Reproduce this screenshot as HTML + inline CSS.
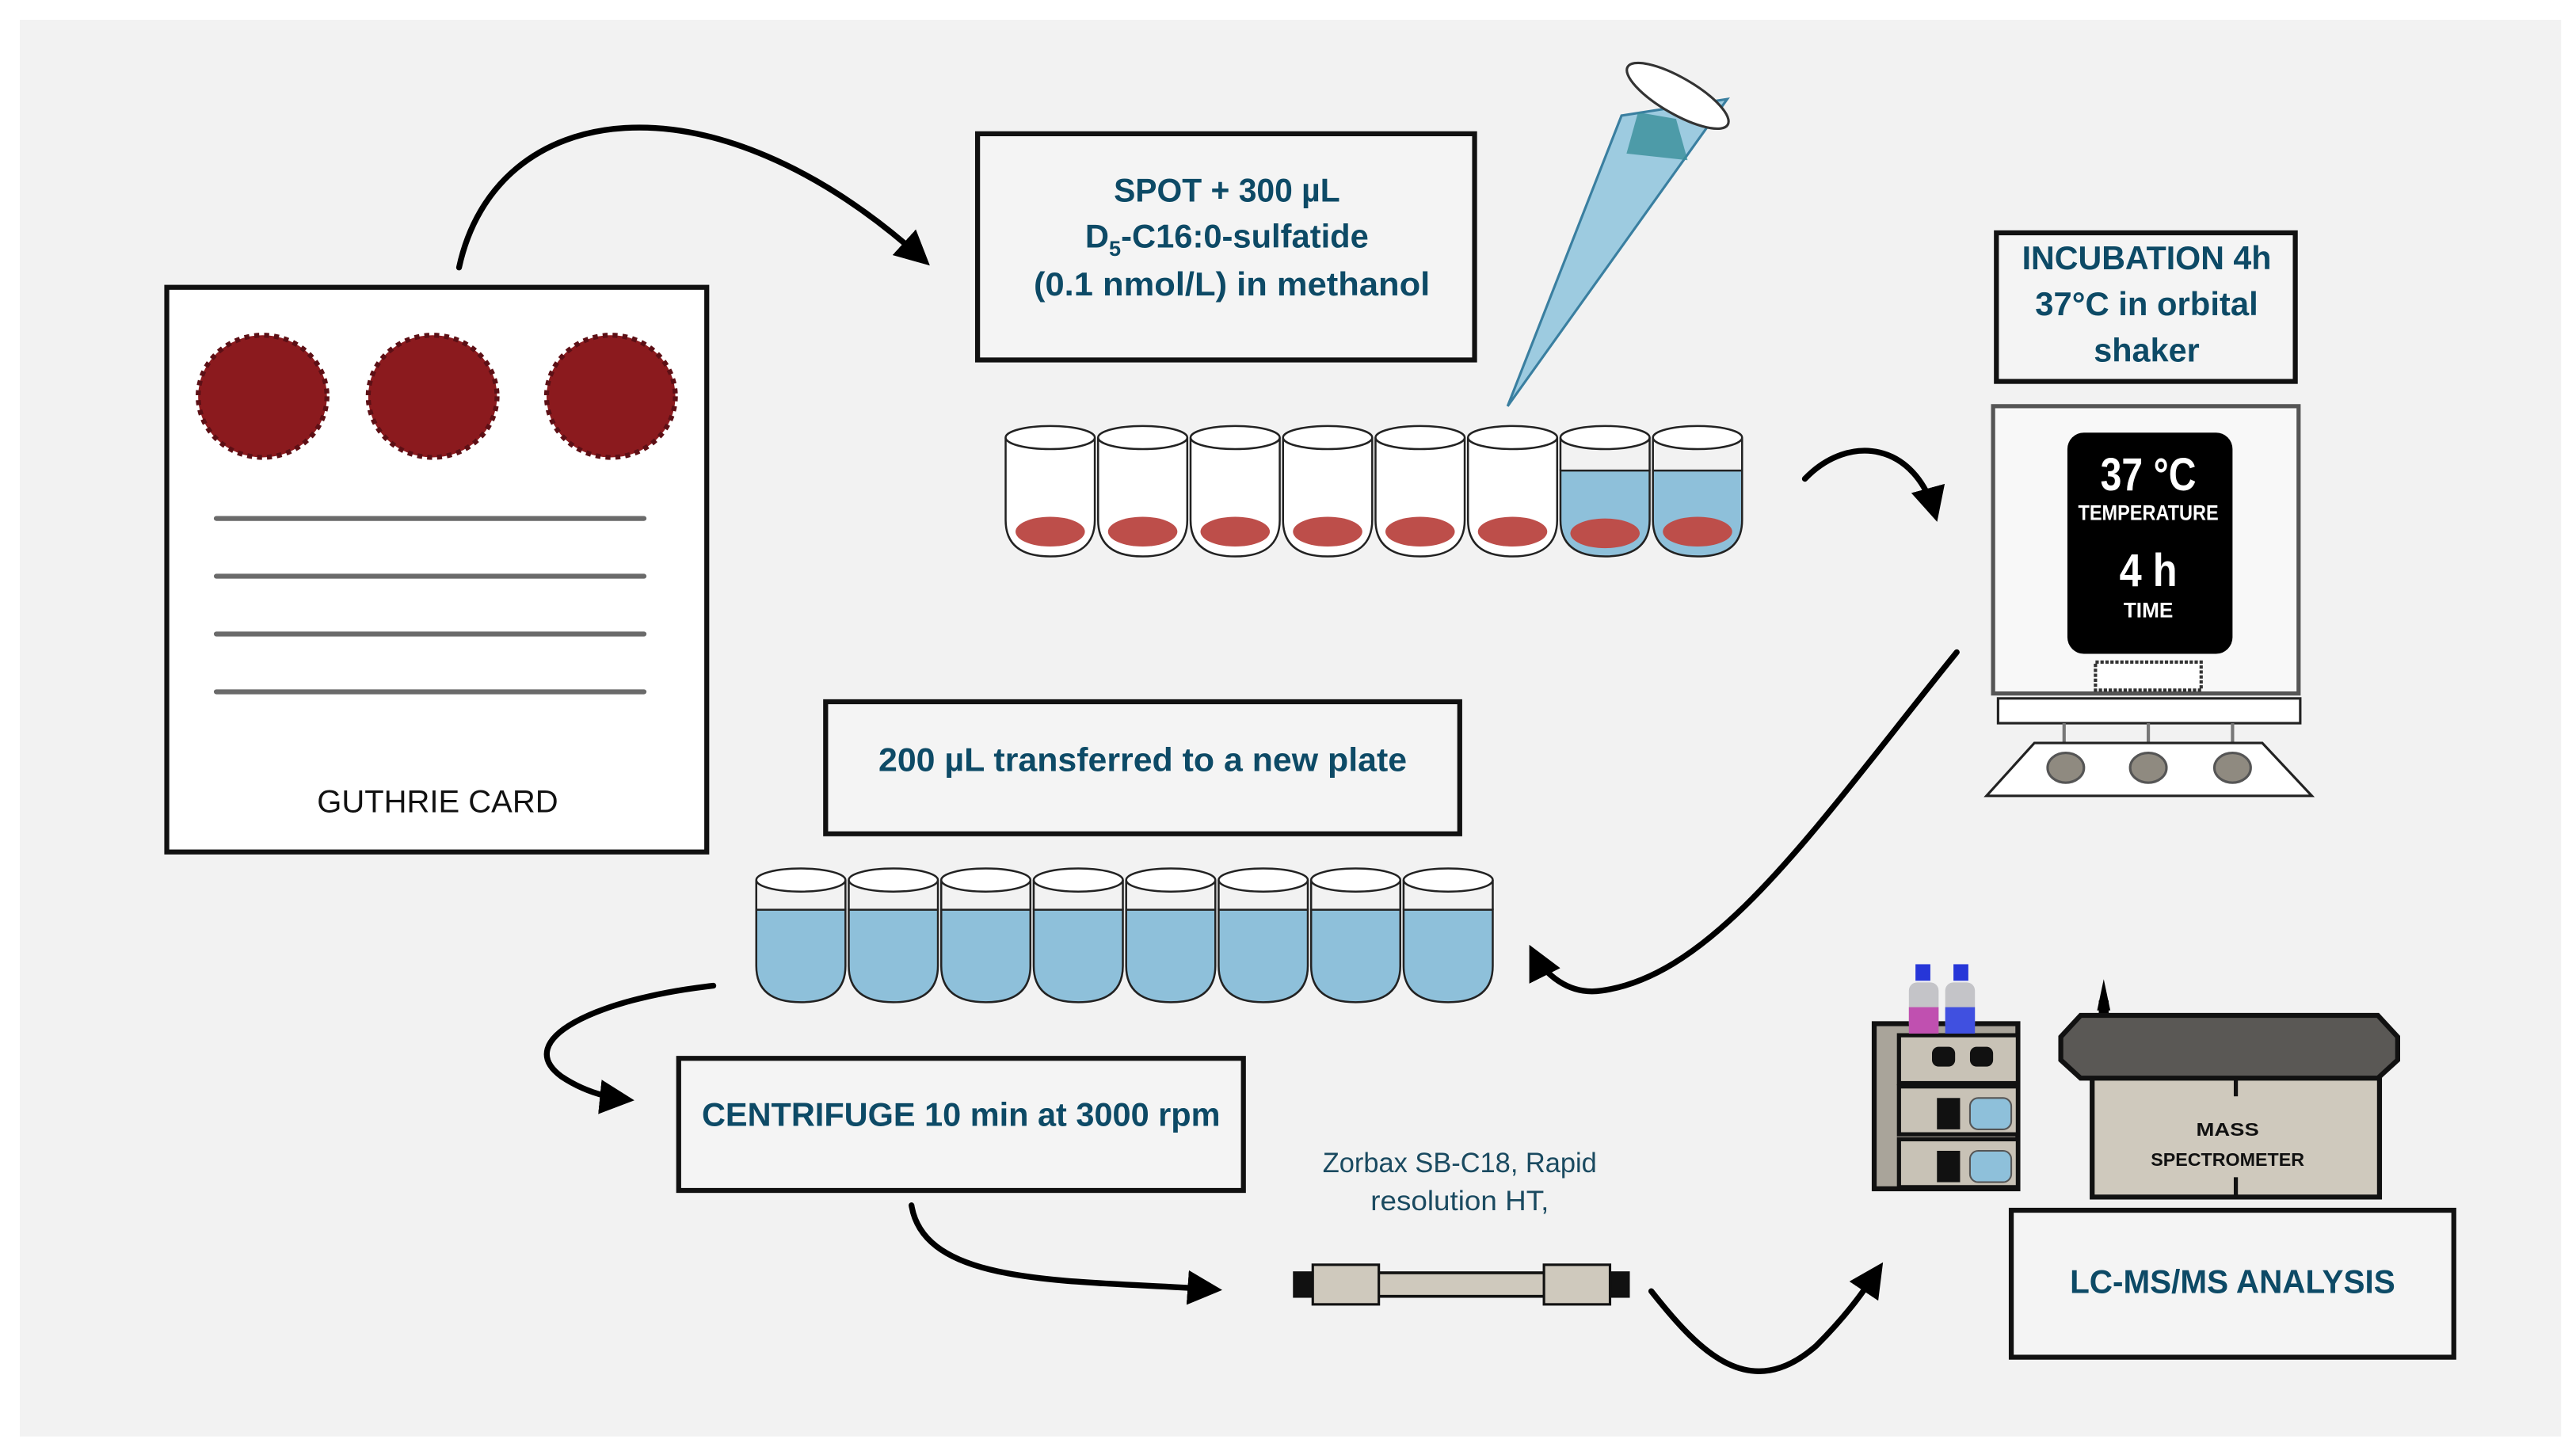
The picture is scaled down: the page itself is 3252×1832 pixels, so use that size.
<!DOCTYPE html>
<html><head><meta charset="utf-8"><style>
html,body{margin:0;padding:0;background:#fff;}
svg{display:block;}
text{font-family:"Liberation Sans Narrow","Liberation Sans",sans-serif;}
</style></head><body>
<svg width="3252" height="1832" viewBox="0 0 1560 878.8" xmlns="http://www.w3.org/2000/svg">
<defs>
<marker id="ah" viewBox="0 0 10 10" refX="8" refY="5" markerWidth="6" markerHeight="6" orient="auto-start-reverse" markerUnits="strokeWidth">
<path d="M0,0 L10,5 L0,10 Z" fill="#000"/></marker>
<g id="tube">
<path d="M-27,265 L-27,315 Q-27,337 0,337 Q27,337 27,315 L27,265" fill="#fff" stroke="#222" stroke-width="1.2"/>
<ellipse cx="0" cy="265" rx="27" ry="7" fill="#fff" stroke="#222" stroke-width="1.2"/>
</g>
</defs>
<rect x="0" y="0" width="1560" height="879" fill="#fff"/>
<rect x="12" y="12" width="1539" height="858" fill="#f2f2f2"/>

<!-- Guthrie card -->
<rect x="101" y="174" width="327" height="342" fill="#fff" stroke="#111" stroke-width="3"/>
<g fill="#8b1a1e" stroke="#5c0f15" stroke-width="3" stroke-dasharray="3 3">
<ellipse cx="159" cy="240" rx="39" ry="37"/>
<ellipse cx="262" cy="240" rx="39" ry="37"/>
<ellipse cx="370" cy="240" rx="39" ry="37"/>
</g>
<g stroke="#6a6a6a" stroke-width="3" stroke-linecap="round">
<line x1="131" y1="314" x2="390" y2="314"/><line x1="131" y1="349" x2="390" y2="349"/>
<line x1="131" y1="384" x2="390" y2="384"/><line x1="131" y1="419" x2="390" y2="419"/>
</g>
<text x="265" y="492" font-size="19" text-anchor="middle" fill="#111" textLength="146" lengthAdjust="spacingAndGlyphs">GUTHRIE CARD</text>

<!-- arrows -->
<g fill="none" stroke="#000" stroke-width="3.5" stroke-linecap="round">
<path d="M278,162 C300,60 430,40 560,158" marker-end="url(#ah)"/>
<path d="M1093,290 C1120,262 1160,268 1172,312" marker-end="url(#ah)"/>
<path d="M1185,395 C1100,500 1040,590 970,600 C950,603 935,590 928,576" marker-end="url(#ah)"/>
<path d="M432,597 C360,605 310,630 340,652 C355,662 370,665 380,666" marker-end="url(#ah)"/>
<path d="M552,730 C560,780 650,775 736,781" marker-end="url(#ah)"/>
<path d="M1000,782 C1030,820 1060,850 1100,815 C1120,795 1130,780 1138,768" marker-end="url(#ah)"/>
</g>

<!-- SPOT box -->
<rect x="592" y="81" width="301" height="137" fill="#f4f4f4" stroke="#111" stroke-width="3"/>
<g font-size="20" font-weight="bold" fill="#0d4a66" text-anchor="middle">
<text x="743" y="122" textLength="137" lengthAdjust="spacingAndGlyphs">SPOT + 300 µL</text>
<text x="743" y="150">D<tspan font-size="13" dy="5">5</tspan><tspan dy="-5">-C16:0-sulfatide</tspan></text>
<text x="746" y="179" textLength="240" lengthAdjust="spacingAndGlyphs">(0.1 nmol/L) in methanol</text>
</g>

<!-- pipette -->
<path d="M913,246 L982,70 L1046,60 Z" fill="#9dcbe0" stroke="#3a7fa0" stroke-width="1.5"/>
<path d="M985,93 L1022,97 L1015,72 L992,68 Z" fill="#3a8f9a" opacity="0.8"/>
<ellipse cx="1016" cy="58" rx="35" ry="11" transform="rotate(30 1016 58)" fill="#fff" stroke="#333" stroke-width="1.5"/>

<!-- tubes row 1 -->
<g>
<use href="#tube" x="636"/><use href="#tube" x="692"/><use href="#tube" x="748"/><use href="#tube" x="804"/>
<use href="#tube" x="860"/><use href="#tube" x="916"/>
</g>
<g fill="#8ec0da" stroke="#222" stroke-width="1.2">
<path d="M945,285 L945,315 Q945,337 972,337 Q999,337 999,315 L999,285 Z"/>
<path d="M1001,285 L1001,315 Q1001,337 1028,337 Q1055,337 1055,315 L1055,285 Z"/>
</g>
<g fill="none" stroke="#222" stroke-width="1.2">
<ellipse cx="972" cy="265" rx="27" ry="7" fill="#fff"/><ellipse cx="1028" cy="265" rx="27" ry="7" fill="#fff"/>
<path d="M945,265 L945,285 M999,265 L999,285 M1001,265 L1001,285 M1055,265 L1055,285"/>
</g>
<g fill="#bd4e4a">
<ellipse cx="636" cy="322" rx="21" ry="9"/><ellipse cx="692" cy="322" rx="21" ry="9"/><ellipse cx="748" cy="322" rx="21" ry="9"/>
<ellipse cx="804" cy="322" rx="21" ry="9"/><ellipse cx="860" cy="322" rx="21" ry="9"/><ellipse cx="916" cy="322" rx="21" ry="9"/>
<ellipse cx="972" cy="323" rx="21" ry="9"/><ellipse cx="1028" cy="322" rx="21" ry="9"/>
</g>

<!-- incubation box -->
<rect x="1209" y="141" width="181" height="90" fill="#f4f4f4" stroke="#111" stroke-width="3"/>
<g font-size="20" font-weight="bold" fill="#0d4a66" text-anchor="middle">
<text x="1300" y="163" textLength="151" lengthAdjust="spacingAndGlyphs">INCUBATION 4h</text>
<text x="1300" y="191" textLength="135" lengthAdjust="spacingAndGlyphs">37°C in orbital</text>
<text x="1300" y="219" textLength="64" lengthAdjust="spacingAndGlyphs">shaker</text>
</g>

<!-- shaker -->
<rect x="1207" y="246" width="185" height="174" fill="#f8f8f8" stroke="#555" stroke-width="2.5"/>
<rect x="1252" y="262" width="100" height="134" rx="10" fill="#000"/>
<g fill="#fff" font-weight="bold" text-anchor="middle">
<text x="1301" y="297" font-size="28" textLength="58" lengthAdjust="spacingAndGlyphs">37 °C</text>
<text x="1301" y="315" font-size="13" textLength="85" lengthAdjust="spacingAndGlyphs">TEMPERATURE</text>
<text x="1301" y="355" font-size="28" textLength="35" lengthAdjust="spacingAndGlyphs">4 h</text>
<text x="1301" y="374" font-size="13" textLength="30" lengthAdjust="spacingAndGlyphs">TIME</text>
</g>
<rect x="1269" y="401" width="64" height="17" fill="#fff" stroke="#333" stroke-width="2" stroke-dasharray="2 1"/>
<rect x="1210" y="423" width="183" height="15" fill="#fff" stroke="#222" stroke-width="1.5"/>
<g stroke="#777" stroke-width="2"><line x1="1250" y1="438" x2="1250" y2="450"/><line x1="1301" y1="438" x2="1301" y2="450"/><line x1="1352" y1="438" x2="1352" y2="450"/></g>
<path d="M1232,450 L1370,450 L1400,482 L1203,482 Z" fill="#fff" stroke="#222" stroke-width="1.5"/>
<g fill="#8f8a80" stroke="#555" stroke-width="1.5">
<ellipse cx="1251" cy="465" rx="11" ry="9"/><ellipse cx="1301" cy="465" rx="11" ry="9"/><ellipse cx="1352" cy="465" rx="11" ry="9"/>
</g>

<!-- 200 box -->
<rect x="500" y="425" width="384" height="80" fill="#f4f4f4" stroke="#111" stroke-width="3"/>
<text x="692" y="467" font-size="20" font-weight="bold" fill="#0d4a66" text-anchor="middle" textLength="320" lengthAdjust="spacingAndGlyphs">200 µL transferred to a new plate</text>

<!-- tubes row 2 -->
<g stroke="#222" stroke-width="1.2">
<g fill="#8ec0da">
<path d="M458,551 L458,585 Q458,607 485,607 Q512,607 512,585 L512,551 Z"/>
<path d="M514,551 L514,585 Q514,607 541,607 Q568,607 568,585 L568,551 Z"/>
<path d="M570,551 L570,585 Q570,607 597,607 Q624,607 624,585 L624,551 Z"/>
<path d="M626,551 L626,585 Q626,607 653,607 Q680,607 680,585 L680,551 Z"/>
<path d="M682,551 L682,585 Q682,607 709,607 Q736,607 736,585 L736,551 Z"/>
<path d="M738,551 L738,585 Q738,607 765,607 Q792,607 792,585 L792,551 Z"/>
<path d="M794,551 L794,585 Q794,607 821,607 Q848,607 848,585 L848,551 Z"/>
<path d="M850,551 L850,585 Q850,607 877,607 Q904,607 904,585 L904,551 Z"/>
</g>
<g fill="#fff">
<ellipse cx="485" cy="533" rx="27" ry="7"/><ellipse cx="541" cy="533" rx="27" ry="7"/><ellipse cx="597" cy="533" rx="27" ry="7"/><ellipse cx="653" cy="533" rx="27" ry="7"/>
<ellipse cx="709" cy="533" rx="27" ry="7"/><ellipse cx="765" cy="533" rx="27" ry="7"/><ellipse cx="821" cy="533" rx="27" ry="7"/><ellipse cx="877" cy="533" rx="27" ry="7"/>
</g>
<path fill="none" d="M458,533V551M512,533V551M514,533V551M568,533V551M570,533V551M624,533V551M626,533V551M680,533V551M682,533V551M736,533V551M738,533V551M792,533V551M794,533V551M848,533V551M850,533V551M904,533V551"/>
</g>

<!-- centrifuge box -->
<rect x="411" y="641" width="342" height="80" fill="#f4f4f4" stroke="#111" stroke-width="3"/>
<text x="582" y="682" font-size="20" font-weight="bold" fill="#0d4a66" text-anchor="middle" textLength="314" lengthAdjust="spacingAndGlyphs">CENTRIFUGE 10 min at 3000 rpm</text>

<!-- Zorbax -->
<g font-size="17" fill="#1a4a60" text-anchor="middle">
<text x="884" y="710" textLength="166" lengthAdjust="spacingAndGlyphs">Zorbax SB-C18, Rapid</text>
<text x="884" y="733" textLength="108" lengthAdjust="spacingAndGlyphs">resolution HT,</text>
</g>
<!-- column -->
<rect x="783" y="770" width="204" height="16" fill="#111"/>
<rect x="830" y="771" width="110" height="14" fill="#cfc9bd" stroke="#111" stroke-width="1.5"/>
<rect x="795" y="766" width="40" height="24" fill="#cfc9bd" stroke="#111" stroke-width="1.5"/>
<rect x="935" y="766" width="40" height="24" fill="#cfc9bd" stroke="#111" stroke-width="1.5"/>

<!-- HPLC -->
<g stroke="#111" stroke-width="3" fill="#a9a49a">
<rect x="1135" y="620" width="87" height="100"/>
</g>
<g stroke="#111" stroke-width="2.5" fill="#c8c2b6">
<rect x="1150" y="627" width="72" height="29"/><rect x="1150" y="658" width="72" height="29"/><rect x="1150" y="690" width="72" height="29"/>
</g>
<g fill="#111"><rect x="1170" y="634" width="14" height="12" rx="4"/><rect x="1193" y="634" width="14" height="12" rx="4"/>
<rect x="1173" y="665" width="14" height="19"/><rect x="1173" y="697" width="14" height="19"/></g>
<g fill="#8ec0da" stroke="#555"><rect x="1193" y="665" width="25" height="19" rx="5"/><rect x="1193" y="697" width="25" height="19" rx="5"/></g>
<rect x="1156" y="595" width="18" height="30" rx="5" fill="#c4c4c8"/><rect x="1178" y="595" width="18" height="30" rx="5" fill="#c4c4c8"/>
<rect x="1160" y="584" width="9" height="10" fill="#2636d8"/><rect x="1183" y="584" width="9" height="10" fill="#2636d8"/>
<rect x="1156" y="610" width="18" height="16" fill="#c050b0"/><rect x="1178" y="610" width="18" height="16" fill="#4050e0"/>

<!-- Mass spec -->
<path d="M1274,593 L1270,612 L1278,612 Z" fill="#000"/><rect x="1271" y="606" width="6" height="10" fill="#000"/>
<rect x="1267" y="651" width="174" height="74" fill="#cfc9bd" stroke="#111" stroke-width="3"/>
<line x1="1354" y1="651" x2="1354" y2="664" stroke="#111" stroke-width="2.5"/>
<line x1="1354" y1="713" x2="1354" y2="725" stroke="#111" stroke-width="2.5"/>
<path d="M1260,615 L1440,615 L1452,628 L1452,642 L1440,653 L1260,653 L1248,642 L1248,628 Z" fill="#5a5855" stroke="#111" stroke-width="3"/>
<g font-size="11" font-weight="bold" fill="#111" text-anchor="middle">
<text x="1349" y="688" textLength="38" lengthAdjust="spacingAndGlyphs">MASS</text>
<text x="1349" y="706" textLength="93" lengthAdjust="spacingAndGlyphs">SPECTROMETER</text>
</g>

<!-- LC-MS box -->
<rect x="1218" y="733" width="268" height="89" fill="#f4f4f4" stroke="#111" stroke-width="3"/>
<text x="1352" y="783" font-size="20" font-weight="bold" fill="#0d4a66" text-anchor="middle" textLength="197" lengthAdjust="spacingAndGlyphs">LC-MS/MS ANALYSIS</text>
</svg>
</body></html>
